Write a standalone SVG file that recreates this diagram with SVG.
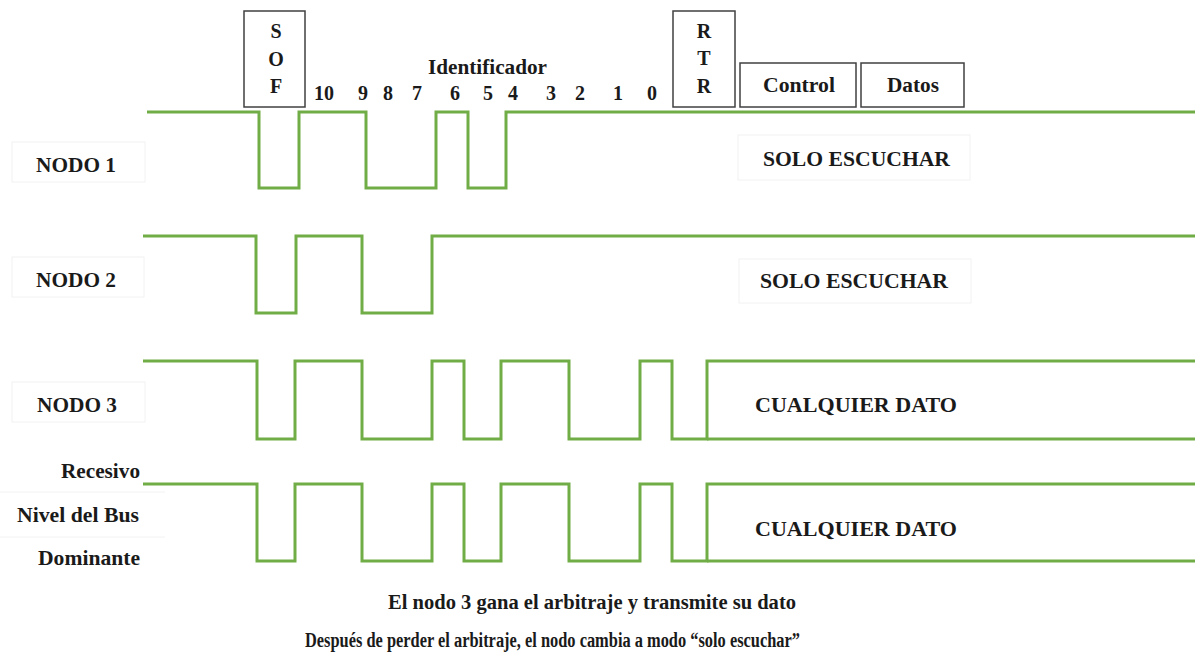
<svg xmlns="http://www.w3.org/2000/svg" width="1195" height="655" viewBox="0 0 1195 655">
  <style>
    .bg { fill: #ffffff; }
    .wave { fill: none; stroke: #70ad47; stroke-width: 3; stroke-linejoin: miter; }
    .field { fill: #ffffff; stroke: #404040; stroke-width: 1.5; }
    .ghost { fill: none; stroke: #f2f2f2; stroke-width: 1; }
    .t { font-family: "Liberation Serif", "Times New Roman", serif; font-weight: bold; font-size: 20px; fill: #1a1a1a; }
    .lbl { font-size: 21.5px; }
    .c { text-anchor: middle; }
    .r { text-anchor: end; }
  </style>

  <rect class="bg" x="0" y="0" width="1195" height="655"/>

  <!-- frame fields along the top -->
  <g id="sof">
    <rect class="field" x="244" y="11" width="61" height="96"/>
    <text class="t c" x="276" y="38">S</text>
    <text class="t c" x="276" y="66">O</text>
    <text class="t c" x="276" y="93">F</text>
  </g>
  <g id="identificador">
    <text class="t" x="428" y="74" textLength="119" lengthAdjust="spacingAndGlyphs">Identificador</text>
    <text class="t c" x="324" y="100">10</text>
    <text class="t c" x="363" y="100">9</text>
    <text class="t c" x="388" y="100">8</text>
    <text class="t c" x="417" y="100">7</text>
    <text class="t c" x="455" y="100">6</text>
    <text class="t c" x="488" y="100">5</text>
    <text class="t c" x="513" y="100">4</text>
    <text class="t c" x="551" y="100">3</text>
    <text class="t c" x="580" y="100">2</text>
    <text class="t c" x="618" y="100">1</text>
    <text class="t c" x="652" y="100">0</text>
  </g>
  <g id="rtr">
    <rect class="field" x="673" y="11" width="62" height="96"/>
    <text class="t c" x="704" y="38">R</text>
    <text class="t c" x="704" y="65">T</text>
    <text class="t c" x="704" y="93">R</text>
  </g>
  <g id="control">
    <rect class="field" x="740" y="63" width="116" height="44"/>
    <text class="t" x="763" y="92" textLength="72" lengthAdjust="spacingAndGlyphs">Control</text>
  </g>
  <g id="datos">
    <rect class="field" x="861" y="63" width="103" height="44"/>
    <text class="t" x="887" y="92" textLength="52" lengthAdjust="spacingAndGlyphs">Datos</text>
  </g>

  <!-- row labels -->
  <g id="nodo1">
    <rect class="ghost" x="12" y="142" width="133" height="40"/>
    <text class="t lbl" x="36" y="172" textLength="80" lengthAdjust="spacingAndGlyphs">NODO 1</text>
    <rect class="ghost" x="738" y="135" width="232" height="45"/>
    <text class="t lbl" x="763" y="166" textLength="187" lengthAdjust="spacingAndGlyphs">SOLO ESCUCHAR</text>
  </g>
  <g id="nodo2">
    <rect class="ghost" x="12" y="257" width="132" height="40"/>
    <text class="t lbl" x="36" y="287" textLength="80" lengthAdjust="spacingAndGlyphs">NODO 2</text>
    <rect class="ghost" x="739" y="259" width="232" height="44"/>
    <text class="t lbl" x="760" y="288" textLength="188" lengthAdjust="spacingAndGlyphs">SOLO ESCUCHAR</text>
  </g>
  <g id="nodo3">
    <rect class="ghost" x="12" y="382" width="133" height="40"/>
    <text class="t lbl" x="37" y="412" textLength="80" lengthAdjust="spacingAndGlyphs">NODO 3</text>
    <text class="t lbl" x="755" y="412" textLength="202" lengthAdjust="spacingAndGlyphs">CUALQUIER DATO</text>
  </g>
  <g id="bus">
    <line class="ghost" x1="0" y1="492" x2="165" y2="492"/>
    <line class="ghost" x1="0" y1="537" x2="165" y2="537"/>
    <text class="t lbl" x="61" y="478" textLength="79" lengthAdjust="spacingAndGlyphs">Recesivo</text>
    <text class="t lbl" x="17" y="522" textLength="122" lengthAdjust="spacingAndGlyphs">Nivel del Bus</text>
    <text class="t lbl" x="38" y="565" textLength="102" lengthAdjust="spacingAndGlyphs">Dominante</text>
    <text class="t lbl" x="755" y="536" textLength="202" lengthAdjust="spacingAndGlyphs">CUALQUIER DATO</text>
  </g>

  <!-- signal traces -->
  <g id="waveforms">
    <polyline class="wave" points="147,112 259,112 259,188 299,188 299,112 366,112 366,188 436,188 436,112 468,112 468,188 506,188 506,112 1195,112"/>
    <polyline class="wave" points="143,236 256,236 256,313 296,313 296,236 362,236 362,313 432,313 432,236 1195,236"/>
    <polyline class="wave" points="143,361 257,361 257,439 295,439 295,361 362,361 362,439 432,439 432,361 464,361 464,439 501,439 501,361 569,361 569,439 640,439 640,361 672,361 672,439 707,439 707,361 1195,361"/>
    <line class="wave" x1="707" y1="439" x2="1195" y2="439"/>
    <polyline class="wave" points="143,484 257,484 257,561 295,561 295,484 362,484 362,561 432,561 432,484 464,484 464,561 501,561 501,484 569,484 569,561 640,561 640,484 672,484 672,561 707,561 707,484 1195,484"/>
    <line class="wave" x1="707" y1="561" x2="1195" y2="561"/>
  </g>

  <!-- captions -->
  <g id="captions">
    <text class="t" x="388" y="609" textLength="408" lengthAdjust="spacingAndGlyphs">El nodo 3 gana el arbitraje y transmite su dato</text>
    <text class="t" x="305" y="647" textLength="495" lengthAdjust="spacingAndGlyphs">Después de perder el arbitraje, el nodo cambia a modo “solo escuchar”</text>
  </g>
</svg>
